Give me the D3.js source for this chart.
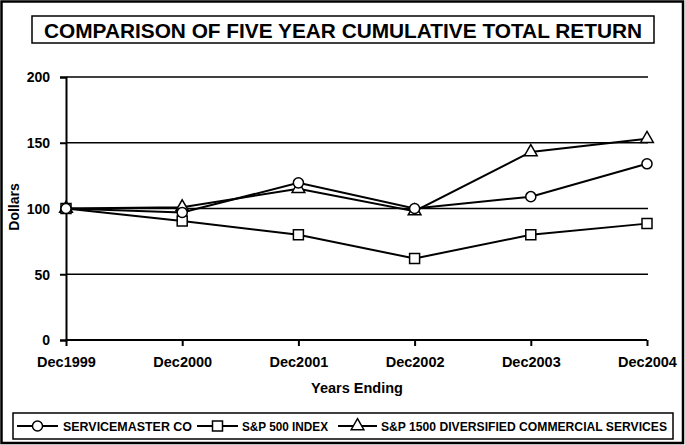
<!DOCTYPE html>
<html><head><meta charset="utf-8">
<script src="https://cdn.jsdelivr.net/npm/d3@7"></script>
<style>html,body{margin:0;padding:0;background:#fff;}svg{display:block;font-family:"Liberation Sans",Arial,sans-serif;}</style>
</head><body>
<script>
const categories = ["Dec1999","Dec2000","Dec2001","Dec2002","Dec2003","Dec2004"];
const serviceMaster = [100, 97, 119.5, 100, 109, 134];
const sp500 = [100, 90.5, 80, 62, 80, 88.5];
const sp1500 = [100, 101, 115, 98, 143, 153];
const seriesNames = ["SERVICEMASTER CO","S&P 500 INDEX","S&P 1500 DIVERSIFIED COMMERCIAL SERVICES"];
const yTicks = [0, 50, 100, 150, 200];
const title = "COMPARISON OF FIVE YEAR CUMULATIVE TOTAL RETURN";

const W = 685, H = 445;
const svg = d3.select("body").append("svg").attr("width", W).attr("height", H);
svg.append("rect").attr("x",1.5).attr("y",1.5).attr("width",W-3.5).attr("height",H-3.5)
  .attr("fill","#fff").attr("stroke","#000").attr("stroke-width",2.5);

// title
svg.append("rect").attr("x",32).attr("y",16).attr("width",622).attr("height",27)
  .attr("fill","#fff").attr("stroke","#000").attr("stroke-width",1.5);
svg.append("text").attr("x",343).attr("y",37.5).attr("text-anchor","middle")
  .attr("font-size",21).attr("font-weight","bold").attr("textLength",598).attr("lengthAdjust","spacingAndGlyphs")
  .text(title);

const x = d3.scalePoint().domain(categories).range([66, 647]);
const y = d3.scaleLinear().domain([0, 200]).range([340, 77]);

// gridlines
svg.append("g").selectAll("line").data(yTicks.filter(d=>d>0)).join("line")
  .attr("x1",66).attr("x2",648).attr("y1",d=>y(d)).attr("y2",d=>y(d))
  .attr("stroke","#000").attr("stroke-width",1.5);

const yAxis = svg.append("g").attr("transform","translate(66,0)")
  .call(d3.axisLeft(y).tickValues(yTicks).tickSize(6).tickPadding(10).tickFormat(d3.format("d")));
const xAxis = svg.append("g").attr("transform","translate(0,340)")
  .call(d3.axisBottom(x).tickSize(6).tickSizeOuter(0).tickPadding(8));
[yAxis, xAxis].forEach(a => {
  a.select(".domain").attr("stroke","#000").attr("stroke-width",2);
  a.selectAll(".tick line").attr("stroke","#000").attr("stroke-width",2);
  a.selectAll("text").attr("fill","#000").attr("font-weight","bold").attr("font-family","Liberation Sans, Arial, sans-serif");
});
yAxis.selectAll("text").attr("font-size",14).attr("dy","0.35em");
xAxis.selectAll("text").attr("font-size",14.5).attr("dy","0.9em");
xAxis.select(".domain").attr("d","M66,0H647");

svg.append("text").attr("x",357).attr("y",393).attr("text-anchor","middle")
  .attr("font-size",14.5).attr("font-weight","bold").text("Years Ending");
svg.append("text").attr("transform","translate(19,207) rotate(-90)").attr("text-anchor","middle")
  .attr("font-size",14).attr("font-weight","bold").text("Dollars");

const symbols = [d3.symbolCircle, d3.symbolSquare, d3.symbolTriangle];
const sizes = [80, 100, 70];
const data = [serviceMaster, sp500, sp1500];
const line = d3.line().x((d,i)=>x(categories[i])).y(d=>y(d));

const order = [2,1,0];
order.forEach(k => {
  svg.append("path").attr("d", line(data[k])).attr("fill","none").attr("stroke","#000").attr("stroke-width",2);
});
order.forEach(k => {
  svg.append("g").selectAll("path").data(data[k]).join("path")
    .attr("transform",(d,i)=>`translate(${x(categories[i])},${y(d)})`)
    .attr("d", d3.symbol().type(symbols[k]).size(sizes[k]))
    .attr("fill","#fff").attr("stroke","#000").attr("stroke-width",1.5);
});

// legend
svg.append("rect").attr("x",13).attr("y",413).attr("width",660).attr("height",26)
  .attr("fill","#fff").attr("stroke","#000").attr("stroke-width",1.5);
const legendItems = [
  {x0:17, x1:58, tx:63, tl:129},
  {x0:197, x1:238, tx:242, tl:86},
  {x0:338, x1:377, tx:381, tl:286}
];
legendItems.forEach((it,k) => {
  const cy = 426;
  svg.append("line").attr("x1",it.x0).attr("x2",it.x1).attr("y1",cy).attr("y2",cy)
    .attr("stroke","#000").attr("stroke-width",2);
  svg.append("path").attr("transform",`translate(${(it.x0+it.x1)/2},${cy})`)
    .attr("d", d3.symbol().type(symbols[k]).size(sizes[k]))
    .attr("fill","#fff").attr("stroke","#000").attr("stroke-width",1.5);
  svg.append("text").attr("x",it.tx).attr("y",cy+4.5).attr("font-size",12.5).attr("font-weight","bold")
    .attr("textLength",it.tl).attr("lengthAdjust","spacingAndGlyphs").text(seriesNames[k]);
});
</script>
</body></html>
